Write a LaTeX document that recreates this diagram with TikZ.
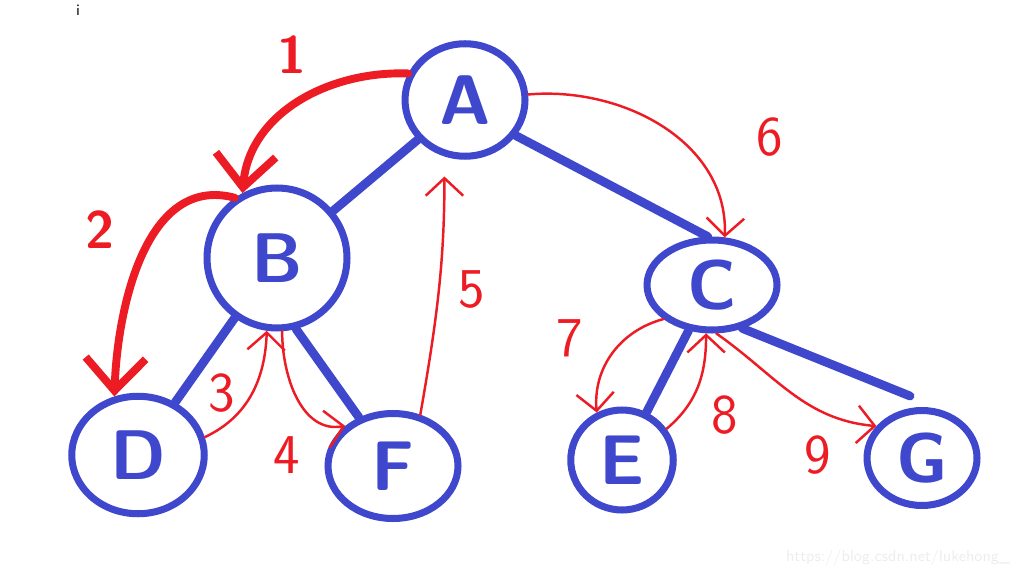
\documentclass[tikz,border=0pt]{standalone}
\usepackage{tikz}
\usepackage{xcolor}
\usetikzlibrary{arrows.meta}
\usetikzlibrary{shapes.geometric}
\definecolor{penblue}{RGB}{63,72,204}
\definecolor{penred}{RGB}{237,28,36}

\begin{document}
\begin{tikzpicture}[x=0.02cm,y=-0.02cm,
  vertex/.style={ellipse,draw=penblue,line width=4pt,text=penblue,inner sep=0pt,
    font=\sffamily\bfseries\fontsize{40}{40}\selectfont},
  branch/.style={penblue,line width=5pt,line cap=round},
  walk/.style={penred,line width=1.4pt,line cap=round,
    -{Straight Barb[length=0.35cm,width=0.75cm]}},
  bigwalk/.style={penred,line width=4.5pt,line cap=round,
    -{Straight Barb[length=0.65cm,width=1.2cm]}},
  steplabel/.style={text=penred,font=\sffamily\fontsize{32}{32}\selectfont}]
\useasboundingbox (0,0) rectangle (1016,577);
% tree
\node[vertex,minimum width=2.4cm,minimum height=2.25cm] (A) at (465,100) {A};
\node[vertex,circle,minimum size=2.8cm] (B) at (277,258) {B};
\node[vertex,minimum width=2.6cm,minimum height=1.8cm] (C) at (712,285) {C};
\node[vertex,minimum width=2.65cm,minimum height=2.35cm] (D) at (138,455) {D};
\node[vertex,minimum width=2.6cm,minimum height=2.1cm] (F) at (393,466) {F};
\node[vertex,minimum width=2.05cm,minimum height=2.0cm] (E) at (622,460) {E};
\node[vertex,minimum width=2.2cm,minimum height=1.9cm] (G) at (922,458) {G};
\coordinate (Gtop) at (910,396);
\draw[branch] (A) -- (B);
\draw[branch] (A.-35) -- (C.95);
\draw[branch] (B) -- (D);
\draw[branch] (B.-75) -- (F.125);
\draw[branch] (C) -- (E);
\draw[branch] (C.-55) -- (Gtop);
% walk order
\draw[bigwalk] (A.155) to[out=178,in=85] (B.118);
\draw[bigwalk] (B.125) to[out=165,in=88] (D.112);
\draw[walk] (D.15) to[out=25,in=-92] (B.-98);
\draw[walk] (B.-86) to[out=-90,in=190] (F.140);
\draw[walk,shorten >=0.4cm] (F.62) to[out=80,in=-90] (A.-110);
\draw[walk] (A.5) to[out=5,in=88] (C.75);
\draw[walk] (C.215) to[out=195,in=95] (E.118);
\draw[walk] (E.35) to[out=40,in=-90] (C.-97);
\draw[walk] (C.-85) to[out=-35,in=175] (G.145);
\node[steplabel,font=\sffamily\bfseries\fontsize{30}{30}\selectfont] (l1) at (292,55) {1};
\node[steplabel,font=\sffamily\bfseries\fontsize{30}{30}\selectfont] (l2) at (100,230) {2};
\node[steplabel] (l3) at (222,393) {3};
\node[steplabel] (l4) at (287,455) {4};
\node[steplabel] (l5) at (472,290) {5};
\node[steplabel] (l6) at (770,137) {6};
\node[steplabel] (l7) at (570,338) {7};
\node[steplabel] (l8) at (725,415) {8};
\node[steplabel] (l9) at (818,455) {9};
% page marks
\node[font=\sffamily\fontsize{9}{9}\selectfont] (cursor) at (78,10) {i};
\node[text=black!7,font=\sffamily\fontsize{9}{9}\selectfont] (mark) at (898,558) {https://blog.csdn.net/lukehong\_};
\end{tikzpicture}
\end{document}
